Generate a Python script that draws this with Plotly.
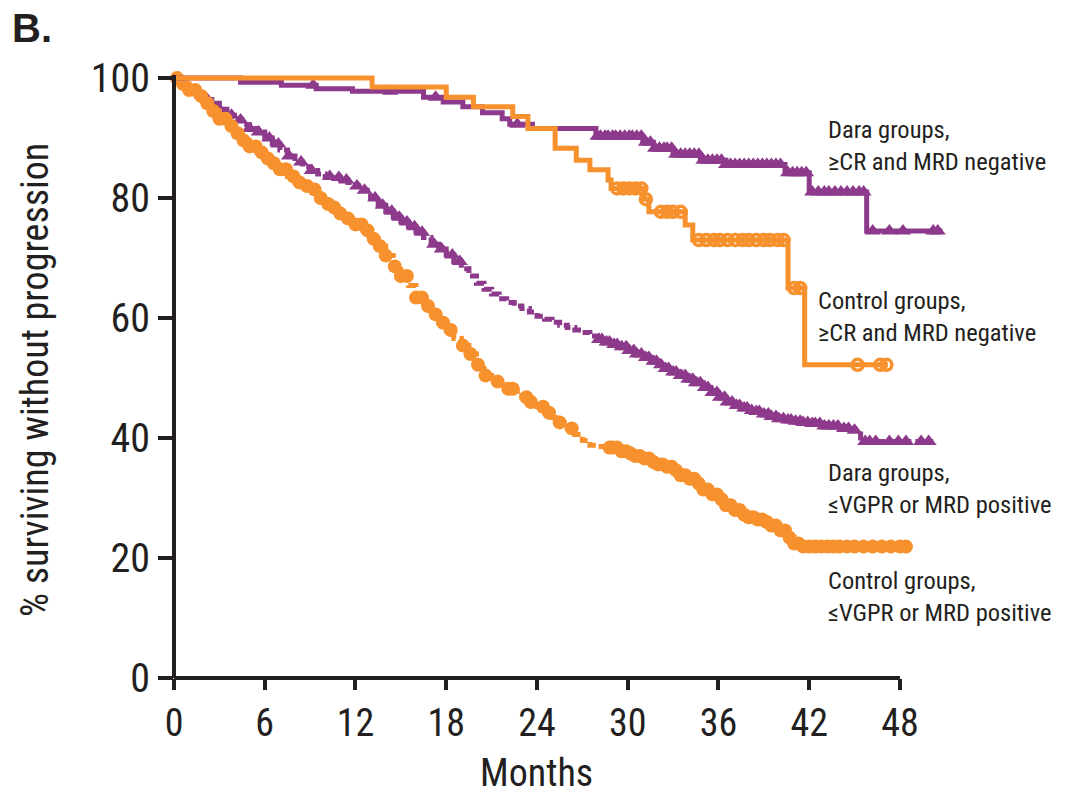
import numpy as np
import plotly.graph_objects as go

# ---------------- data ----------------
# Dara groups, >=CR and MRD negative
dara_cr_t = [0, 4.4, 7.1, 9.4, 11.8, 16.5, 17.8, 19.1, 20.4, 21.7, 22.2, 23.7, 27.9,
             31.0, 31.7, 33.0, 34.8, 36.5, 40.4, 42.0, 45.8, 50.8]
dara_cr_s = [100, 99.3, 98.8, 98.2, 97.8, 96.8, 96.0, 95.2, 94.2, 93.2, 92.3, 91.6, 90.3,
             89.3, 88.3, 87.3, 86.3, 85.6, 84.2, 81.0, 74.5, 74.5]
dara_cr_cens = [9.2, 14.3, 17.3, 22.7, 28.0, 28.2, 28.5, 28.7, 29.0, 29.2, 29.5, 29.8, 30.1,
                30.3, 30.6, 30.9, 31.2, 31.5, 31.8, 32.1, 32.4, 32.6, 32.9, 33.2, 33.5, 33.8,
                34.1, 34.4, 34.7, 35.0, 35.3, 35.6, 35.9, 36.2, 36.5, 36.8, 37.1, 37.4, 37.7,
                38.0, 38.3, 38.6, 38.9, 39.2, 39.5, 39.8, 40.1, 40.6, 40.9, 41.2, 41.5, 41.8,
                42.2, 42.6, 43.0, 43.3, 43.7, 44.1, 44.5, 44.9, 45.3, 45.6, 46.2, 47.3, 48.2,
                50.2, 50.5]

# Control groups, >=CR and MRD negative
ctl_cr_t = [0, 13.1, 18.0, 19.8, 22.4, 23.4, 25.2, 26.6, 27.5, 28.7, 28.9, 31.1, 31.4,
            33.8, 34.3, 40.6, 41.7, 47.2]
ctl_cr_s = [100, 98.5, 96.8, 95.2, 93.6, 91.6, 88.3, 86.3, 84.7, 83.0, 81.6, 79.8, 77.7,
            75.5, 73.0, 65.0, 52.2, 52.2]
ctl_cr_cens = [29.3, 29.7, 30.1, 30.5, 30.9, 31.2, 32.2, 32.6, 33.0, 33.5, 34.7, 35.2, 35.7,
               36.1, 36.6, 37.1, 37.6, 38.0, 38.5, 39.0, 39.4, 39.9, 40.3, 41.0, 41.4, 45.2,
               46.7, 47.1]

# Dara groups, <=VGPR or MRD positive
dara_vg_t = [0, 0.5, 1.0, 1.5, 2.0, 2.5, 3.0, 3.5, 4.0, 4.5, 5.0, 5.5, 6.0, 6.5, 7.0, 7.5,
             8.0, 8.5, 9.0, 9.5, 10.0, 10.5, 11.0, 11.5, 12.0, 12.5, 13.0, 13.5, 14.0, 14.5,
             15.0, 15.5, 16.0, 16.5, 17.0, 17.5, 18.0, 18.5, 19.0, 19.5, 20.0, 20.5, 21.0,
             21.5, 22.0, 22.5, 23.0, 23.5, 24.0, 24.5, 25.0, 25.5, 26.0, 26.5, 27.0, 27.5,
             28.0, 28.5, 29.0, 29.5, 30.0, 30.5, 31.0, 31.5, 32.0, 32.5, 33.0, 33.5, 34.0,
             34.5, 35.0, 35.5, 36.0, 36.5, 37.0, 37.5, 38.0, 38.5, 39.0, 39.5, 40.0, 40.5,
             41.0, 41.5, 42.0, 43.0, 44.0, 45.0, 45.4, 50.2]
dara_vg_s = [100, 98.8, 97.9, 97.0, 96.4, 95.8, 94.8, 93.8, 93.0, 92.2, 91.6, 91.0, 90.0,
             89.0, 88.0, 87.0, 86.0, 85.2, 84.6, 84.0, 83.6, 83.4, 83.0, 82.6, 82.0, 81.3,
             80.0, 78.8, 77.8, 76.8, 76.0, 75.2, 74.3, 73.4, 72.3, 71.5, 70.5, 69.4, 68.2,
             67.0, 65.8, 64.8, 64.0, 63.2, 62.6, 62.0, 61.6, 61.0, 60.3, 59.8, 59.3, 58.8,
             58.4, 58.0, 57.6, 57.0, 56.4, 56.0, 55.6, 55.2, 54.6, 54.0, 53.4, 52.8, 52.2,
             51.6, 51.0, 50.4, 49.8, 49.2, 48.4, 47.6, 46.8, 46.0, 45.4, 45.0, 44.6, 44.4,
             44.0, 43.6, 43.2, 43.0, 42.8, 42.6, 42.4, 42.0, 41.6, 41.3, 39.4, 39.4]
dara_vg_cens = [0.3, 0.8, 1.4, 2.2, 3.0, 3.8, 4.4, 5.0, 5.6, 6.3, 6.9, 7.6, 8.4, 9.1, 10.3,
                10.9, 11.4, 12.1, 12.6, 13.3, 13.8, 14.4, 14.9, 15.4, 15.9, 16.4, 17.2, 17.7,
                18.4, 18.9, 28.1, 28.3, 28.6, 28.8, 29.1, 29.3, 29.6, 29.9, 30.1, 30.4, 30.6,
                30.9, 31.2, 31.4, 31.7, 31.9, 32.2, 32.5, 32.7, 33.0, 33.2, 33.5, 33.8, 34.0,
                34.3, 34.5, 34.8, 35.1, 35.3, 35.6, 35.9, 36.1, 36.4, 36.6, 36.9, 37.2, 37.4,
                37.7, 37.9, 38.2, 38.5, 38.7, 39.0, 39.3, 39.5, 39.8, 40.0, 40.3, 40.6, 40.8,
                41.1, 41.4, 41.6, 41.9, 42.2, 42.4, 42.7, 43.0, 43.3, 43.6, 43.9, 44.3, 44.6,
                45.0, 45.7, 46.0, 46.4, 47.3, 47.9, 48.4, 49.4, 49.9]

# Control groups, <=VGPR or MRD positive
ctl_vg_t = [0, 0.5, 1.0, 1.5, 2.0, 2.5, 3.0, 3.5, 4.0, 4.5, 5.0, 5.5, 6.0, 6.5, 7.0, 7.5,
            8.0, 8.5, 9.0, 9.5, 10.0, 10.5, 11.0, 11.5, 12.0, 12.5, 13.0, 13.5, 14.0, 14.5,
            15.0, 15.5, 16.0, 16.5, 17.0, 17.5, 18.0, 18.5, 19.0, 19.5, 20.0, 20.5, 21.0,
            21.5, 22.0, 22.5, 23.0, 23.5, 24.0, 24.5, 25.0, 25.5, 26.0, 26.5, 27.0, 27.5,
            28.0, 28.8, 29.5, 30.0, 30.5, 31.0, 31.5, 32.0, 32.5, 33.0, 33.5, 34.0, 34.5,
            35.0, 35.5, 36.0, 36.5, 37.0, 37.5, 38.0, 38.5, 39.0, 39.5, 40.0, 40.5, 41.0,
            41.5, 48.4]
ctl_vg_s = [100, 99.0, 98.0, 97.0, 95.8, 94.5, 93.2, 92.0, 90.8, 89.6, 88.6, 87.6, 86.6,
            85.8, 84.8, 83.6, 82.6, 82.0, 81.4, 80.0, 79.0, 78.4, 77.4, 76.6, 75.6, 74.6,
            73.2, 72.0, 70.4, 68.6, 67.0, 65.4, 63.4, 62.0, 60.6, 59.2, 58.0, 56.6, 55.4,
            54.0, 52.2, 50.4, 49.4, 48.8, 48.2, 47.8, 46.8, 46.0, 45.2, 44.2, 43.4, 42.6,
            41.6, 40.6, 39.6, 38.8, 38.6, 38.4, 37.8, 37.4, 37.0, 36.6, 36.0, 35.6, 35.2,
            34.6, 33.8, 33.2, 32.4, 31.4, 30.6, 29.8, 28.8, 28.0, 27.2, 26.8, 26.4, 26.0,
            25.4, 24.6, 23.4, 22.4, 21.9, 21.9]
ctl_vg_cens = [0.2, 0.6, 1.0, 1.4, 1.8, 2.2, 2.6, 3.0, 3.4, 3.8, 4.2, 4.6, 5.0, 5.4, 5.8,
               6.2, 6.6, 7.0, 7.4, 7.9, 8.3, 8.8, 9.3, 9.7, 10.2, 10.6, 11.0, 11.5, 12.0,
               12.4, 12.8, 13.2, 13.6, 14.0, 14.6, 15.0, 15.4, 16.0, 16.4, 16.8, 17.3, 17.8,
               18.3, 19.1, 19.6, 20.1, 20.6, 21.4, 22.1, 22.4, 23.3, 23.6, 24.4, 24.8, 25.5,
               26.3, 28.8, 29.0, 29.3, 29.6, 29.9, 30.2, 30.5, 30.8, 31.1, 31.4, 31.7, 32.0,
               32.3, 32.6, 32.9, 33.2, 33.5, 33.8, 34.1, 34.4, 34.7, 35.0, 35.3, 35.6, 35.9,
               36.2, 36.5, 36.8, 37.1, 37.4, 37.7, 38.0, 38.3, 38.6, 38.9, 39.2, 39.5, 39.8,
               40.1, 40.4, 40.7, 41.0, 41.3, 41.6, 42.0, 42.4, 42.8, 43.2, 43.6, 44.0, 44.5,
               45.0, 45.6, 46.2, 46.8, 47.4, 48.0, 48.4]

x_ticks = [0, 6, 12, 18, 24, 30, 36, 42, 48]
y_ticks = [0, 20, 40, 60, 80, 100]

labels = {
    "dara_cr": "Dara groups,<br>≥CR and MRD negative",
    "ctl_cr": "Control groups,<br>≥CR and MRD negative",
    "dara_vg": "Dara groups,<br>≤VGPR or MRD positive",
    "ctl_vg": "Control groups,<br>≤VGPR or MRD positive",
}

# ---------------- style ----------------
PURPLE = "#8e3a8c"
ORANGE = "#f7912d"
INK = "#231f20"
FONT = "Liberation Sans Narrow, Roboto Condensed, DejaVu Sans Condensed, Liberation Sans, sans-serif"

W, H = 1066, 803
L, R, T, B = 174, 98, 60, 125
XMAX, YMAX = 52.5, 103
PW, PH = W - L - R, H - T - B


def px_x(px):
    return (px - L) / PW


def px_y(py):
    return (H - B - py) / PH


def step_value(times, vals, t):
    i = np.searchsorted(np.asarray(times), t, side="right") - 1
    return np.asarray(vals)[i]


fig = go.Figure()


def add_curve(times, vals, cens, color, symbol, msize, dash, open_marker=False):
    fig.add_trace(go.Scatter(x=times, y=vals, mode="lines", line_shape="hv",
                             line=dict(color=color, width=5, dash=dash),
                             hoverinfo="skip", showlegend=False))
    cy = [step_value(times, vals, t) for t in cens]
    if open_marker:
        marker = dict(symbol=symbol, size=msize, color=color, line=dict(color=color, width=3.5))
    else:
        marker = dict(symbol=symbol, size=msize, color=color, line=dict(width=0))
    fig.add_trace(go.Scatter(x=cens, y=cy, mode="markers", marker=marker,
                             cliponaxis=False, hoverinfo="skip", showlegend=False))


add_curve(dara_vg_t, dara_vg_s, dara_vg_cens, PURPLE, "triangle-up", 14, "9px,4px")
add_curve(ctl_vg_t, ctl_vg_s, ctl_vg_cens, ORANGE, "circle", 14, "9px,4px")
add_curve(dara_cr_t, dara_cr_s, dara_cr_cens, PURPLE, "triangle-up", 14, "solid")
add_curve(ctl_cr_t, ctl_cr_s, ctl_cr_cens, ORANGE, "circle-open", 11, "solid", open_marker=True)

# axis lines (paper coords so they are not clipped)
shapes = [
    dict(type="line", xref="paper", yref="paper", x0=0, x1=48 / XMAX, y0=0, y1=0,
         line=dict(color=INK, width=4), layer="above"),
    dict(type="line", xref="paper", yref="paper", x0=0, x1=0, y0=0, y1=100.5 / YMAX,
         line=dict(color=INK, width=4), layer="above"),
]

ann = []
ann.append(dict(text="<b>B.</b>", xref="paper", yref="paper", x=px_x(10), y=px_y(28),
                xanchor="left", yanchor="middle", showarrow=False,
                font=dict(family="Liberation Sans, Arial, sans-serif", size=40, color=INK)))
ann.append(dict(text="% surviving without progression", xref="paper", yref="paper",
                x=px_x(35), y=px_y(380), xanchor="center", yanchor="middle", textangle=-90,
                showarrow=False, font=dict(family=FONT, size=38, color=INK)))
ann.append(dict(text="Months", xref="paper", yref="paper", x=px_x(536), y=px_y(773),
                xanchor="center", yanchor="middle", showarrow=False,
                font=dict(family=FONT, size=38, color=INK)))
for key, (px, py) in {"dara_cr": (826, 145), "ctl_cr": (816, 316),
                      "dara_vg": (826, 488), "ctl_vg": (826, 596)}.items():
    ann.append(dict(text=labels[key], xref="paper", yref="paper", x=px_x(px), y=px_y(py),
                    xanchor="left", yanchor="middle", align="left", showarrow=False,
                    font=dict(family=FONT, size=24.5, color=INK)))

fig.update_layout(
    width=W, height=H,
    margin=dict(l=L, r=R, t=T, b=B),
    paper_bgcolor="white", plot_bgcolor="white",
    shapes=shapes, annotations=ann,
    xaxis=dict(range=[0, XMAX], tickvals=x_ticks, ticktext=[str(v) for v in x_ticks],
               ticks="outside", ticklen=11, tickwidth=4, tickcolor=INK,
               showgrid=False, zeroline=False, showline=False,
               tickfont=dict(family=FONT, size=38, color=INK)),
    yaxis=dict(range=[0, YMAX], tickvals=y_ticks, ticktext=[str(v) for v in y_ticks],
               ticks="outside", ticklen=15, tickwidth=4, tickcolor=INK,
               showgrid=False, zeroline=False, showline=False,
               tickfont=dict(family=FONT, size=40, color=INK)),
)

fig.write_html("out.html", config={"displayModeBar": False},
               post_script="document.body.style.margin='0';document.body.style.overflow='hidden';")
